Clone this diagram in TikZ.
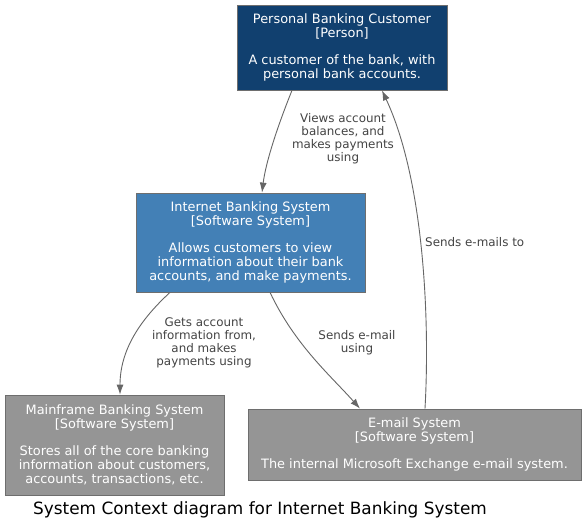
\documentclass[tikz,border=0pt]{standalone}
\usepackage{fontspec}
\setmainfont{DejaVu Sans}
\usetikzlibrary{arrows.meta,calc}
\definecolor{persblue}{HTML}{11406F}
\definecolor{sysblue}{HTML}{4380B6}
\definecolor{extgrey}{HTML}{959595}
\definecolor{bordergrey}{HTML}{6E6E6E}
\definecolor{edgegrey}{HTML}{666666}
\definecolor{labgrey}{HTML}{444444}
\tikzset{
  box/.style={draw=bordergrey, line width=0.8pt, text=white, align=center, inner sep=0pt,
    font=\fontsize{12.9}{14}\selectfont},
  rel/.style={draw=edgegrey, line width=0.9pt, -{Latex[length=10pt,width=7pt]}},
  lab/.style={text=labgrey, align=center, inner sep=0pt, font=\fontsize{11.9}{13}\selectfont}
}
\begin{document}
\begin{tikzpicture}[x=1pt,y=-1pt]
\useasboundingbox (0,0) rectangle (587,532);
\fill[white] (0,0) rectangle (587,532);
\node[box, fill=persblue, minimum width=210pt, minimum height=85pt] (p) at (342,47.5)
  {Personal Banking Customer\\{}[Person]\\[13pt]A customer of the bank, with\\personal bank accounts.};
\node[box, fill=sysblue, minimum width=229pt, minimum height=99pt] (ibs) at (250.5,242.5)
  {Internet Banking System\\{}[Software System]\\[13pt]Allows customers to view\\information about their bank\\accounts, and make payments.};
\node[box, fill=extgrey, minimum width=219pt, minimum height=100pt] (mf) at (114.5,445)
  {Mainframe Banking System\\{}[Software System]\\[13pt]Stores all of the core banking\\information about customers,\\accounts, transactions, etc.};
\node[box, fill=extgrey, minimum width=333pt, minimum height=71pt] (em) at (414.5,444.5)
  {E-mail System\\{}[Software System]\\[13pt]The internal Microsoft Exchange e-mail system.};
\node[font=\fontsize{16.9}{18}\selectfont, inner sep=0pt] (title) at (260,510)
  {System Context diagram for Internet Banking System};

\coordinate (p1) at ([xshift=-50pt]p.south);
\coordinate (i1) at ([xshift=11.5pt]ibs.north);
\draw[rel] (p1) .. controls (280,120) and (266,160) .. (i1);
\node[lab] (l1) at (343,139) {Views account\\balances, and\\makes payments\\using};

\coordinate (i2) at ([xshift=-80.5pt]ibs.south);
\coordinate (m1) at ([xshift=5.5pt]mf.north);
\draw[rel] (i2) .. controls (140,320) and (120,350) .. (m1);
\node[lab] (l2) at (204,343) {Gets account\\information from,\\and makes\\payments using};

\coordinate (i3) at ([xshift=19.5pt]ibs.south);
\coordinate (e1) at ([xshift=-54.5pt]em.north);
\draw[rel] (i3) .. controls (295,345) and (330,375) .. (e1);
\node[lab] (l3) at (357,343) {Sends e-mail\\using};

\coordinate (e2) at ([xshift=10.5pt]em.north);
\coordinate (p2) at ([xshift=40pt]p.south);
\draw[rel] (e2) .. controls (430,320) and (424,180) .. (p2);
\node[lab, anchor=west] (l4) at (425,242) {Sends e-mails to};
\end{tikzpicture}
\end{document}
